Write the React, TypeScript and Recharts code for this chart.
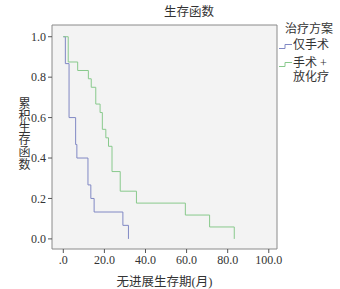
import { LineChart, Line, XAxis, YAxis, ReferenceArea } from "recharts";

const SERIES_NAMES = ["仅手术", "手术 +\n放化疗"];
const SURGERY_TIME = [0, 1.0, 2.8, 6.0, 6.6, 12.0, 13.4, 15.0, 29.0, 31.7];
const SURGERY_SURV = [1, 0.867, 0.6, 0.467, 0.4, 0.267, 0.2, 0.133, 0.067, 0];
const COMBINED_TIME = [0, 2.4, 7.0, 12.2, 13.6, 15.8, 17.9, 19.0, 20.7, 22.0, 23.7, 27.7, 35.6, 59.4, 71.2, 83.2];
const COMBINED_SURV = [1, 0.875, 0.833, 0.792, 0.75, 0.667, 0.625, 0.542, 0.5, 0.458, 0.333, 0.236, 0.177, 0.118, 0.059, 0];
const X_TICKS = [0, 20, 40, 60, 80, 100];
const Y_TICKS = [0, 0.2, 0.4, 0.6, 0.8, 1.0];

const COLORS = ["#8088c4", "#88c98c"];
const FONT = '"Liberation Serif", "DejaVu Serif", "Noto Sans CJK SC", serif';
const X_DOMAIN: [number, number] = [-5.5, 104];
const Y_DOMAIN: [number, number] = [-0.05, 1.058];

const toRows = (t: number[], s: number[]) => t.map((time, i) => ({ t: time, s: s[i] }));

function StepIcon({ color }: { color: string }) {
  return (
    <svg width={14} height={8} style={{ display: "inline-block", verticalAlign: "middle" }}>
      <path d="M0,6.5 H6 V2.5 H13" stroke={color} strokeWidth={1} fill="none" />
    </svg>
  );
}

export default function App() {
  const surgery = toRows(SURGERY_TIME, SURGERY_SURV);
  const combined = toRows(COMBINED_TIME, COMBINED_SURV);
  const tick = { fontSize: 12, fill: "#333", fontFamily: FONT };

  return (
    <div style={{ position: "absolute", left: 0, top: 0, width: 340, height: 289, background: "#fff" }}>
      <LineChart width={340} height={289} margin={{ top: 25, right: 63, bottom: 0, left: 0 }}>
        <ReferenceArea
          x1={X_DOMAIN[0]}
          x2={X_DOMAIN[1]}
          y1={Y_DOMAIN[0]}
          y2={Y_DOMAIN[1]}
          fill="#f3f3f3"
          fillOpacity={1}
          stroke="#8a8a8a"
          strokeWidth={1}
        />
        <XAxis
          type="number"
          dataKey="t"
          domain={X_DOMAIN}
          ticks={X_TICKS}
          allowDataOverflow
          axisLine={false}
          tickSize={4}
          tickLine={{ stroke: "#555" }}
          tick={tick}
          tickFormatter={(v: number) => (v === 0 ? ".0" : v.toFixed(1))}
          height={40}
          label={{ value: "无进展生存期(月)", position: "insideBottom", offset: 3, fontSize: 12.5, fill: "#333", fontFamily: FONT }}
        />
        <YAxis
          type="number"
          dataKey="s"
          domain={Y_DOMAIN}
          ticks={Y_TICKS}
          allowDataOverflow
          axisLine={false}
          tickSize={4}
          tickLine={{ stroke: "#555" }}
          tick={tick}
          tickFormatter={(v: number) => v.toFixed(1)}
          width={52}
        />
        <Line
          data={surgery}
          dataKey="s"
          type="stepAfter"
          stroke={COLORS[0]}
          strokeWidth={1}
          dot={false}
          isAnimationActive={false}
        />
        <Line
          data={combined}
          dataKey="s"
          type="stepAfter"
          stroke={COLORS[1]}
          strokeWidth={1}
          dot={false}
          isAnimationActive={false}
        />
      </LineChart>
      <div
        style={{
          position: "absolute",
          left: 164,
          top: 5,
          width: 50,
          textAlign: "center",
          fontSize: 12.5,
          color: "#333",
          fontFamily: FONT,
          lineHeight: "15px",
        }}
      >
        生存函数
      </div>
      <div
        style={{
          position: "absolute",
          left: 16,
          top: 97,
          fontSize: 12,
          lineHeight: "14px",
          color: "#333",
          fontFamily: FONT,
          writingMode: "vertical-rl",
          textOrientation: "upright",
          letterSpacing: 0.2,
        }}
      >
        累积生存函数
      </div>
      <div style={{ position: "absolute", left: 279, top: 22, fontSize: 12, color: "#333", fontFamily: FONT, lineHeight: "15px" }}>
        <div style={{ paddingLeft: 6 }}>治疗方案</div>
        <div style={{ marginTop: 1 }}>
          <StepIcon color={COLORS[0]} />
          {SERIES_NAMES[0]}
        </div>
        <div style={{ marginTop: 2, display: "flex" }}>
          <div style={{ paddingTop: 1 }}>
            <StepIcon color={COLORS[1]} />
          </div>
          <div style={{ whiteSpace: "pre", lineHeight: "13.5px", paddingTop: 2 }}>{SERIES_NAMES[1]}</div>
        </div>
      </div>
    </div>
  );
}
